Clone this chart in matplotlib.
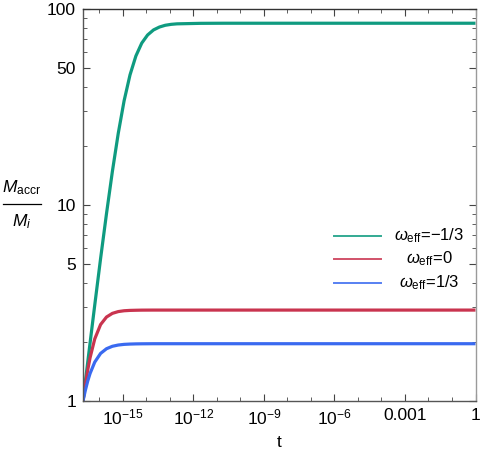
import matplotlib
matplotlib.use("Agg")
import matplotlib.pyplot as plt
from matplotlib.lines import Line2D
from matplotlib.ticker import FixedLocator, NullFormatter

plt.rcParams['font.family'] = ['Liberation Sans', 'DejaVu Sans']
plt.rcParams['mathtext.fontset'] = 'custom'
plt.rcParams['mathtext.rm'] = 'Liberation Sans'
plt.rcParams['mathtext.it'] = 'Liberation Sans:italic'
plt.rcParams['mathtext.bf'] = 'Liberation Sans:bold'

# time grid (t)
t = [2e-17, 2.52e-17, 3.17e-17, 3.99e-17, 6.32e-17, 1.12e-16, 2e-16, 3.56e-16,
     6.32e-16, 1.12e-15, 2e-15, 3.56e-15, 6.32e-15, 1.12e-14, 2e-14, 3.56e-14,
     6.32e-14, 1.12e-13, 2e-13, 2e-12, 2e-11, 2e-9, 2e-7, 2e-4, 1.0]

# M_accr / M_i for each equation of state
m_minus13 = [1.0, 1.256, 1.574, 1.973, 3.086, 5.33, 9.04, 14.85, 23.2, 34.0, 46.1,
             57.6, 67.0, 73.7, 78.2, 80.9, 82.6, 83.5, 84.0, 84.5, 84.6, 84.6, 84.6, 84.6, 84.6]
m_zero = [1.0, 1.213, 1.437, 1.661, 2.073, 2.455, 2.682, 2.800, 2.859, 2.887, 2.899,
          2.904, 2.908, 2.909, 2.910, 2.910, 2.910, 2.910, 2.910, 2.910, 2.910, 2.910,
          2.910, 2.910, 2.910]
m_plus13 = [1.0, 1.134, 1.263, 1.381, 1.579, 1.749, 1.848, 1.902, 1.930, 1.945, 1.952,
            1.956, 1.958, 1.959, 1.960, 1.960, 1.960, 1.960, 1.960, 1.960, 1.960, 1.960,
            1.960, 1.960, 1.960]

labels = [r'$\omega_{\mathrm{eff}}$=−1/3', r'$\omega_{\mathrm{eff}}$=0', r'$\omega_{\mathrm{eff}}$=1/3']
colors = ['#0f9b80', '#c9344f', '#3a6af0']

xticks = [1e-15, 1e-12, 1e-9, 1e-6, 1e-3, 1]
xticklabels = [r'$\mathregular{10^{-15}}$', r'$\mathregular{10^{-12}}$', r'$\mathregular{10^{-9}}$',
               r'$\mathregular{10^{-6}}$', '0.001', '1']
yticks = [1, 5, 10, 50, 100]
yticklabels = ['1', '5', '10', '50', '100']

W, H = 481, 454
fig = plt.figure(figsize=(W / 100, H / 100), dpi=100)
ax = fig.add_axes([83 / W, 1 - 401 / H, (475.5 - 83) / W, (401 - 9) / H])

for y, c in zip([m_minus13, m_zero, m_plus13], colors):
    ax.plot(t, y, color=c, lw=2.3, solid_capstyle='butt')

ax.set_xscale('log')
ax.set_yscale('log')
ax.set_xlim(2e-17, 1)
ax.set_ylim(1, 100)

ax.xaxis.set_major_locator(FixedLocator(xticks))
ax.set_xticklabels(xticklabels)
ax.xaxis.set_minor_locator(FixedLocator([10.0**k for k in range(-16, 1)]))
ax.xaxis.set_minor_formatter(NullFormatter())
ax.yaxis.set_major_locator(FixedLocator(yticks))
ax.set_yticklabels(yticklabels)
ax.yaxis.set_minor_locator(FixedLocator([2, 3, 4, 6, 7, 8, 9, 20, 30, 40, 60, 70, 80, 90]))
ax.yaxis.set_minor_formatter(NullFormatter())

ax.tick_params(which='both', direction='in', top=True, right=True, labelsize=12.5,
               colors='#444444', labelcolor='black', pad=5)
ax.tick_params(which='major', length=5, width=0.8)
ax.tick_params(which='minor', length=3, width=0.6)

ax.spines['top'].set_color('#333333')
ax.spines['left'].set_color('#555555')
ax.spines['bottom'].set_color('#555555')
ax.spines['right'].set_color('#9a9a9a')
for s in ax.spines.values():
    s.set_linewidth(1.0)

ax.set_xlabel('t', fontsize=12.5, labelpad=5)

# y label as a stacked fraction
fig.text(22 / W, 1 - 188 / H, r'$M_{\mathrm{accr}}$', fontsize=12.5, ha='center', va='center')
fig.add_artist(Line2D([3 / W, 41 / W], [1 - 204 / H, 1 - 204 / H], color='black', lw=0.9))
fig.text(22 / W, 1 - 222 / H, r'$M_i$', fontsize=12.5, ha='center', va='center')

# legend (drawn manually to mimic centered labels)
rows = [236, 259, 283]
for yy, c, lab in zip(rows, colors, labels):
    yf = 1 - yy / H
    fig.add_artist(Line2D([334 / W, 381 / W], [yf, yf], color=c, lw=1.4, alpha=0.85))
    fig.text(429 / W, yf, lab, fontsize=12, ha='center', va='center')

fig.savefig('out.png', dpi=100)
